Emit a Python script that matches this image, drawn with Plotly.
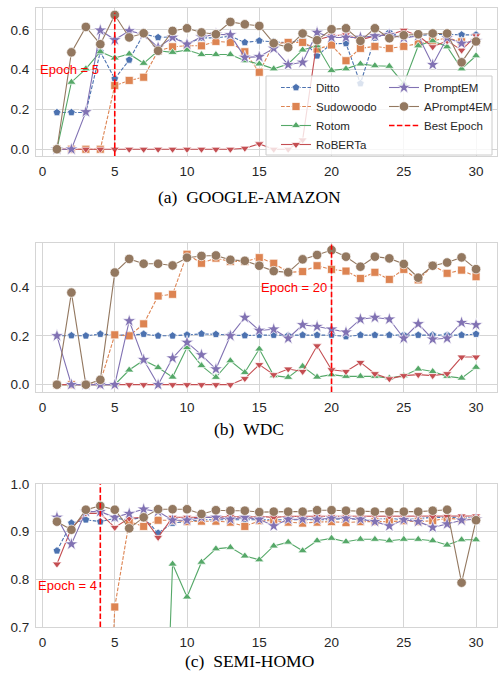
import plotly.graph_objects as go

epochs = list(range(1, 31))
models = ["Ditto", "Sudowoodo", "Rotom", "RoBERTa", "PromptEM", "APrompt4EM"]
panel_titles = ["(a)\u00a0\u00a0GOOGLE-AMAZON", "(b)\u00a0\u00a0WDC", "(c)\u00a0\u00a0SEMI-HOMO"]

# ---------------- GOOGLE-AMAZON ----------------
ga_ditto = [0.185, 0.185, 0.185, 0.49, 0.354, 0.449, 0.58, 0.562, 0.565, 0.53, 0.56, 0.56, 0.568, 0.537, 0.545,
            0.54, 0.535, 0.55, 0.47, 0.53, 0.532, 0.33, 0.56, 0.587, 0.56, 0.573, 0.575, 0.578, 0.575, 0.575]
ga_sudo = [0, 0, 0, 0, 0.32, 0.346, 0.362, 0.495, 0.515, 0.52, 0.52, 0.542, 0.537, 0.49, 0.387,
           0.53, 0.537, 0.537, 0.504, 0.524, 0.445, 0.507, 0.517, 0.507, 0.517, 0.53, 0.545, 0.56, 0.54, 0.54]
ga_rotom = [0, 0.337, 0.404, 0.49, 0.459, 0.479, 0.432, 0.495, 0.487, 0.499, 0.476, 0.476, 0.476, 0.445, 0.429,
            0.404, 0.429, 0.499, 0.52, 0.396, 0.404, 0.429, 0.42, 0.417, 0.33, 0.52, 0.545, 0.515, 0.404, 0.47]
ga_roberta = [0, 0, 0, 0, 0, 0, 0, 0, 0, 0, 0, 0, 0, 0.005, 0.027,
              0, 0, 0.047, 0.55, 0.57, 0.575, 0.55, 0.57, 0.575, 0.598, 0.57, 0.515, 0.545, 0.498, 0.57]
ga_prompt = [0, 0, 0.188, 0.598, 0.55, 0.595, 0.578, 0.512, 0.562, 0.528, 0.565, 0.578, 0.575, 0.462, 0.465,
             0.507, 0.425, 0.437, 0.587, 0.562, 0.562, 0.562, 0.57, 0.575, 0.56, 0.57, 0.425, 0.56, 0.532, 0.545]
ga_aprompt = [0, 0.487, 0.615, 0.528, 0.675, 0.562, 0.583, 0.495, 0.595, 0.608, 0.587, 0.578, 0.64, 0.628, 0.62,
              0.533, 0.512, 0.582, 0.548, 0.603, 0.608, 0.545, 0.608, 0.558, 0.573, 0.578, 0.582, 0.582, 0.437, 0.542]

# ---------------- WDC ----------------
wdc_ditto = [0.2, 0.201, 0.2, 0.207, 0.203, 0.203, 0.207, 0.2, 0.2, 0.204, 0.208, 0.206, 0.204, 0.201, 0.203,
             0.203, 0.201, 0.203, 0.203, 0.203, 0.197, 0.203, 0.203, 0.203, 0.203, 0.203, 0.203, 0.203, 0.203, 0.207]
wdc_sudo = [0, 0, 0, 0.01, 0.204, 0.2, 0.249, 0.363, 0.37, 0.534, 0.497, 0.518, 0.504, 0.504, 0.52,
            0.497, 0.46, 0.463, 0.487, 0.472, 0.465, 0.435, 0.46, 0.431, 0.472, 0.429, 0.487, 0.456, 0.469, 0.442]
wdc_rotom = [0, 0, 0, 0, 0, 0.06, 0.1, 0.07, 0.031, 0.152, 0.078, 0.03, 0.098, 0.05, 0.146,
             0.037, 0.03, 0.075, 0.031, 0.041, 0.034, 0.034, 0.034, 0.027, 0.037, 0.064, 0.054, 0.034, 0.027, 0.071]
wdc_roberta = [0, 0, 0, 0, 0, 0, 0, 0, 0, 0, 0, 0, 0, 0.025, 0.082,
               0.041, 0.064, 0.054, 0.159, 0.061, 0.054, 0.091, 0.045, 0.024, 0.037, 0.041, 0.037, 0.045, 0.113, 0.113]
wdc_prompt = [0.2, 0, 0, 0, 0, 0.261, 0.102, 0, 0.109, 0.173, 0.122, 0.064, 0.2, 0.275, 0.222,
              0.227, 0.19, 0.245, 0.238, 0.227, 0.215, 0.268, 0.275, 0.268, 0.19, 0.249, 0.186, 0.19, 0.254, 0.245]
wdc_aprompt = [0, 0.377, 0, 0.02, 0.459, 0.515, 0.495, 0.495, 0.488, 0.52, 0.527, 0.529, 0.511, 0.507, 0.487,
               0.465, 0.46, 0.513, 0.531, 0.551, 0.524, 0.483, 0.524, 0.517, 0.494, 0.438, 0.487, 0.5, 0.521, 0.473]

# ---------------- SEMI-HOMO ----------------
sh_ditto = [0.86, 0.918, 0.925, 0.921, 0.928, 0.925, 0.93, 0.897, 0.918, 0.921, 0.925, 0.925, 0.925, 0.925, 0.925,
            0.925, 0.925, 0.925, 0.925, 0.925, 0.928, 0.925, 0.925, 0.928, 0.925, 0.928, 0.93, 0.93, 0.93, 0.93]
sh_sudo = [0, 0, 0, 0, 0.742, 0.921, 0.911, 0.924, 0.924, 0.921, 0.922, 0.922, 0.92, 0.911, 0.923,
           0.923, 0.92, 0.918, 0.92, 0.921, 0.919, 0.921, 0.921, 0.921, 0.923, 0.921, 0.923, 0.928, 0.926, 0.926]
sh_rotom = [0, 0, 0, 0, 0, 0, 0, 0, 0.832, 0.763, 0.836, 0.864, 0.867, 0.849, 0.841,
            0.87, 0.878, 0.86, 0.881, 0.886, 0.879, 0.884, 0.884, 0.881, 0.884, 0.884, 0.881, 0.872, 0.883, 0.883]
sh_roberta = [0.832, 0.907, 0.939, 0.938, 0.909, 0.928, 0.93, 0.888, 0.93, 0.93, 0.93, 0.93, 0.932, 0.93, 0.932,
              0.93, 0.932, 0.932, 0.932, 0.932, 0.932, 0.932, 0.932, 0.932, 0.932, 0.932, 0.932, 0.932, 0.933, 0.933]
sh_prompt = [0.93, 0.874, 0.942, 0.942, 0.93, 0.938, 0.947, 0.942, 0.924, 0.924, 0.93, 0.93, 0.926, 0.93, 0.926,
             0.912, 0.926, 0.926, 0.926, 0.928, 0.928, 0.926, 0.921, 0.912, 0.925, 0.921, 0.909, 0.916, 0.924, 0.926]
sh_aprompt = [0.921, 0.904, 0.946, 0.954, 0.946, 0.907, 0.93, 0.947, 0.947, 0.947, 0.937, 0.945, 0.944, 0.944, 0.941,
              0.942, 0.942, 0.942, 0.945, 0.945, 0.944, 0.942, 0.942, 0.942, 0.942, 0.942, 0.944, 0.946, 0.793, 0.924]

best_epoch = [5, 20, 4]
best_line_top = [0.686, 0.574, 1.0]
y_ranges = [[-0.034, 0.71], [-0.03, 0.58], [0.7, 1.0]]
y_ticks = [[0.0, 0.2, 0.4, 0.6], [0.0, 0.2, 0.4], [0.7, 0.8, 0.9, 1.0]]
x_ticks = [0, 5, 10, 15, 20, 25, 30]

panels = [
    [ga_ditto, ga_sudo, ga_rotom, ga_roberta, ga_prompt, ga_aprompt],
    [wdc_ditto, wdc_sudo, wdc_rotom, wdc_roberta, wdc_prompt, wdc_aprompt],
    [sh_ditto, sh_sudo, sh_rotom, sh_roberta, sh_prompt, sh_aprompt],
]

# ---------------- styling ----------------
colors = ["#4C72B0", "#DD8452", "#55A868", "#C44E52", "#8172B3", "#937860"]
symbols = ["pentagon", "square", "triangle-up", "triangle-down", "star", "circle"]
msizes = [8, 8, 8, 8, 10, 9.5]
dashes = ["3.7px,1.6px", "3.7px,1.6px", "solid", "solid", "solid", "solid"]
legend_ids = ["legend", "legend", "legend", "legend", "legend2", "legend2"]

W, H = 498, 675
def px_x(p):
    return p / W
def px_y(p):
    return 1 - p / H

plot_left, plot_right = 36, 497
panel_px = [(8, 156), (243, 392), (484, 627)]
caption_y = [197, 429, 661]
label_pos = [(-0.3, 0.4), (15.0, 0.396), (-0.45, 0.788)]

FONT = "Liberation Sans, Arial, sans-serif"
GRID = "#d5d5d5"

fig = go.Figure()
layout = dict(
    width=W, height=H, margin=dict(l=0, r=0, t=0, b=0, autoexpand=False),
    paper_bgcolor="white", plot_bgcolor="white",
    font=dict(family=FONT, size=13.5, color="#262626"),
    showlegend=True,
)
annotations = []
shapes = []

for i, series in enumerate(panels):
    s = "" if i == 0 else str(i + 1)
    xa, ya = "x" + s, "y" + s
    top, bot = panel_px[i]
    layout["xaxis" + s] = dict(
        domain=[px_x(plot_left), px_x(plot_right)], anchor=ya, automargin=False,
        range=[-0.45, 31.45], tickvals=x_ticks, showgrid=True, gridcolor=GRID, gridwidth=1,
        zeroline=False, showline=True, mirror=True, linecolor=GRID, linewidth=1.2,
        ticks="", ticklabelstandoff=3, tickfont=dict(size=13.5),
    )
    layout["yaxis" + s] = dict(
        domain=[px_y(bot), px_y(top)], anchor=xa, automargin=False,
        range=y_ranges[i], tickvals=y_ticks[i], tickformat=".1f", showgrid=True, gridcolor=GRID, gridwidth=1,
        zeroline=False, showline=True, mirror=True, linecolor=GRID, linewidth=1.2,
        ticks="", ticklabelstandoff=3, tickfont=dict(size=13.5),
    )
    for k, name in enumerate(models):
        fig.add_trace(go.Scatter(
            x=epochs, y=series[k], name=name, mode="lines+markers",
            xaxis=xa, yaxis=ya, legend=legend_ids[k], legendgroup=name, showlegend=(i == 0),
            line=dict(color=colors[k], width=1.1, dash=dashes[k]),
            marker=dict(symbol=symbols[k], size=msizes[k], color=colors[k], line=dict(color="white", width=0.7)),
            cliponaxis=True,
        ))
    fig.add_trace(go.Scatter(
        x=[best_epoch[i], best_epoch[i]], y=[y_ranges[i][0], best_line_top[i]],
        name="Best Epoch", mode="lines", xaxis=xa, yaxis=ya,
        legend="legend2", legendgroup="best", showlegend=(i == 0),
        line=dict(color="red", width=1.6, dash="5.5px,2.4px"),
    ))
    annotations.append(dict(
        x=label_pos[i][0], y=label_pos[i][1], xref=xa, yref=ya, text=f"Epoch = {best_epoch[i]}",
        showarrow=False, xanchor="left", yanchor="middle", font=dict(color="red", size=13, family=FONT),
    ))
    annotations.append(dict(
        x=0.5, y=px_y(caption_y[i]), xref="paper", yref="paper", text=panel_titles[i],
        showarrow=False, xanchor="center", yanchor="middle",
        font=dict(family="Liberation Serif, Times New Roman, serif", size=17.5, color="black"),
    ))

# legend frame (shared by the two legend columns)
shapes.append(dict(
    type="rect", xref="paper", yref="paper", layer="above",
    x0=px_x(266), x1=px_x(492), y0=px_y(155), y1=px_y(76),
    fillcolor="rgba(255,255,255,0.8)", line=dict(color="#cccccc", width=1),
))
leg_common = dict(bgcolor="rgba(0,0,0,0)", borderwidth=0, font=dict(size=11.5, family=FONT, color="#262626"),
                  yanchor="top", orientation="v", tracegroupgap=0)
layout["legend"] = dict(x=px_x(276), xanchor="left", y=px_y(73), **leg_common)
layout["legend2"] = dict(x=1.0, xanchor="right", y=px_y(73), **leg_common)
layout["annotations"] = annotations
layout["shapes"] = shapes
fig.update_layout(**layout)

fig.write_html("out.html", config={"displayModeBar": False},
               post_script="document.body.style.margin='0px';document.body.style.overflow='hidden';")
